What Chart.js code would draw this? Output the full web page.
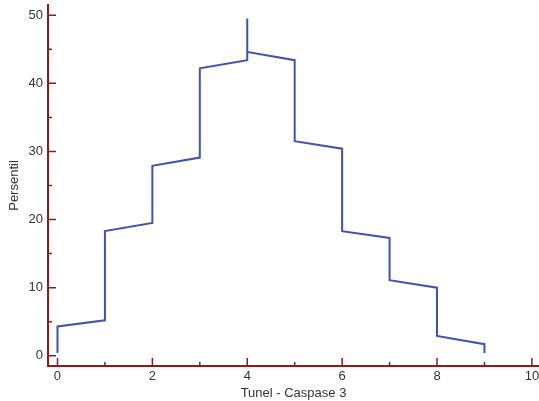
<!DOCTYPE html>
<html>
<head>
<meta charset="utf-8">
<script src="https://cdn.jsdelivr.net/npm/chart.js@4"></script>
<style>
  html, body { margin: 0; padding: 0; background: #fff; }
  #wrap { width: 539px; height: 401px; }
</style>
</head>
<body>
<div id="wrap"><canvas id="myChart"></canvas></div>
<script>
// percentile curve
const xValues = [0, 0, 1, 1, 2, 2, 3, 3, 4, 4, 4, 5, 5, 6, 6, 7, 7, 8, 8, 9, 9]
const yValues = [0.4, 4.3, 5.2, 18.3, 19.5, 27.9, 29.1, 42.2, 43.4, 49.5, 44.6, 43.4, 31.5, 30.4, 18.3, 17.3, 11.1, 10.0, 2.9, 1.7, 0.4]
const xTicks = [0, 2, 4, 6, 8, 10]
const xMinorTicks = [1, 3, 5, 7, 9]
const yTicks = [0, 10, 20, 30, 40, 50]
const yMinorTicks = [5, 15, 25, 35, 45]
const xTitle = 'Tunel - Caspase 3'
const yTitle = 'Persentil'

const axisColor = '#8b1c1c'
const textColor = '#333333'
const font = { family: 'Liberation Sans, Arial, sans-serif', size: 13 }

// ticks drawn on the inside of the axes
const innerTicks = {
    id: 'innerTicks',
    afterDraw(chart) {
        const ctx = chart.ctx
        const x = chart.scales.x, y = chart.scales.y
        const area = chart.chartArea
        ctx.save()
        ctx.strokeStyle = axisColor
        ctx.lineWidth = 1.5
        ctx.beginPath()
        xTicks.forEach(v => { const p = x.getPixelForValue(v); ctx.moveTo(p, area.bottom); ctx.lineTo(p, area.bottom - 8) })
        xMinorTicks.forEach(v => { const p = x.getPixelForValue(v); ctx.moveTo(p, area.bottom); ctx.lineTo(p, area.bottom - 4) })
        yTicks.forEach(v => { const p = y.getPixelForValue(v); ctx.moveTo(area.left, p); ctx.lineTo(area.left + 8, p) })
        yMinorTicks.forEach(v => { const p = y.getPixelForValue(v); ctx.moveTo(area.left, p); ctx.lineTo(area.left + 4, p) })
        ctx.stroke()
        ctx.restore()
    }
}

const ctx = document.getElementById('myChart')
new Chart(ctx, {
    type: 'scatter',
    data: {
        datasets: [{
            data: xValues.map((v, i) => ({ x: v, y: yValues[i] })),
            showLine: true,
            borderColor: '#4152b4',
            borderWidth: 2,
            pointRadius: 0,
            tension: 0,
            fill: false
        }]
    },
    options: {
        responsive: true,
        maintainAspectRatio: false,
        animation: false,
        layout: { padding: { top: 5, right: 0, left: 0, bottom: 0 } },
        plugins: {
            legend: { display: false },
            tooltip: { enabled: false }
        },
        scales: {
            x: {
                type: 'linear',
                min: -0.2,
                max: 10.15,
                afterBuildTicks: s => { s.ticks = xTicks.map(v => ({ value: v })) },
                afterFit: s => { s.height = 35; s.paddingLeft = 0; s.paddingRight = 0 },
                grid: { display: false, drawTicks: false },
                border: { color: axisColor, width: 2 },
                ticks: { color: textColor, font, padding: 3, maxRotation: 0 },
                title: { display: true, text: xTitle, color: textColor, font, padding: { top: 1, bottom: 0 } }
            },
            y: {
                type: 'linear',
                min: -1.5,
                max: 51.5,
                afterBuildTicks: s => { s.ticks = yTicks.map(v => ({ value: v })) },
                afterFit: s => { s.width = 48; s.paddingTop = 0; s.paddingBottom = 0 },
                grid: { display: false, drawTicks: false },
                border: { color: axisColor, width: 2 },
                ticks: { color: textColor, font, padding: 5 },
                title: { display: true, text: yTitle, color: textColor, font, padding: { top: 7, bottom: 2 } }
            }
        }
    },
    plugins: [innerTicks]
})
</script>
</body>
</html>
